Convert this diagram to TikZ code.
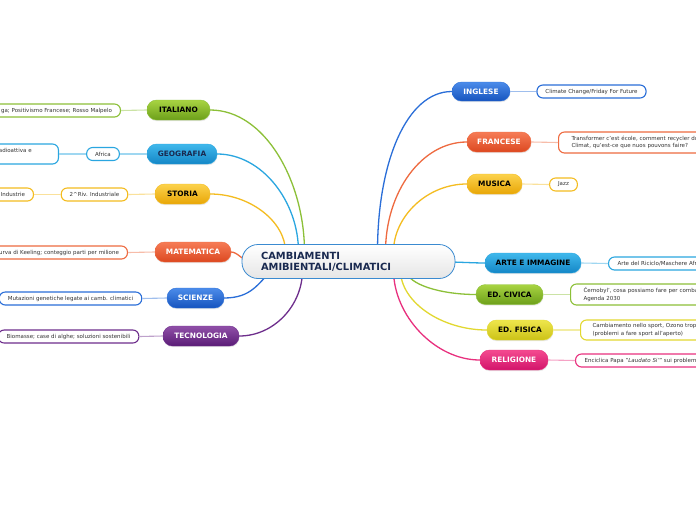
\documentclass[tikz,border=0pt]{standalone}
\usepackage{fontspec}
\setmainfont{DejaVu Sans}
\usetikzlibrary{calc,shadows}
\definecolor{gtop}{HTML}{A8D442}\definecolor{gbot}{HTML}{6C9F1A}\definecolor{gline}{HTML}{8CC038}
\definecolor{ltop}{HTML}{40B8EC}\definecolor{lbot}{HTML}{1486C6}\definecolor{lline}{HTML}{2AA6E0}
\definecolor{ytop}{HTML}{FCD24C}\definecolor{ybot}{HTML}{E8A606}\definecolor{yline}{HTML}{F4BC20}
\definecolor{otop}{HTML}{F67C56}\definecolor{obot}{HTML}{DC4820}\definecolor{oline}{HTML}{EE6A40}
\definecolor{btop}{HTML}{4C8CEA}\definecolor{bbot}{HTML}{1654BE}\definecolor{bline}{HTML}{2A6ED8}
\definecolor{ptop}{HTML}{9050A8}\definecolor{pbot}{HTML}{5A1C76}\definecolor{pline}{HTML}{6E2E8C}
\definecolor{ftop}{HTML}{EEE64C}\definecolor{fbot}{HTML}{CCC216}\definecolor{fline}{HTML}{E2D830}
\definecolor{rtop}{HTML}{F44A90}\definecolor{rbot}{HTML}{D2146A}\definecolor{rline}{HTML}{E8307E}
\definecolor{navy}{HTML}{1A2A50}
\definecolor{cline}{HTML}{3A8AD0}
\definecolor{leaftext}{HTML}{333333}
\tikzset{
  branch/.style={rounded corners=9.5pt, minimum height=20pt, inner sep=0pt,
    font=\fontsize{7.4}{9}\selectfont\bfseries, line width=0.4pt,
    drop shadow={opacity=0.18, shadow xshift=0.4pt, shadow yshift=-1.2pt}},
  bgreen/.style={branch, top color=gtop, bottom color=gbot, draw=gline, text=black},
  blblue/.style={branch, top color=ltop, bottom color=lbot, draw=lline, text=navy},
  blblueb/.style={branch, top color=ltop, bottom color=lbot, draw=lline, text=black},
  byellow/.style={branch, top color=ytop, bottom color=ybot, draw=yline, text=black},
  borange/.style={branch, top color=otop, bottom color=obot, draw=oline, text=white},
  bblue/.style={branch, top color=btop, bottom color=bbot, draw=bline, text=white},
  bpurple/.style={branch, top color=ptop, bottom color=pbot, draw=pline, text=white},
  bfis/.style={branch, top color=ftop, bottom color=fbot, draw=fline, text=black},
  bpink/.style={branch, top color=rtop, bottom color=rbot, draw=rline, text=white},
  leaf/.style={rounded corners=6pt, fill=white, line width=1.1pt, minimum height=13pt,
    inner xsep=8.5pt, inner ysep=1pt, text=leaftext, font=\fontsize{5.5}{7.2}\selectfont},
  conn/.style={line width=1.3pt},
  lconn/.style={line width=1.1pt},
}
\begin{document}
\begin{tikzpicture}[x=1pt,y=-1pt]
\useasboundingbox (0,0) rectangle (696,520);
\fill[white] (0,0) rectangle (696,520);
\clip (0,0) rectangle (696,520);

% branch nodes
\node[bgreen,  minimum width=63pt] (it)  at (178.5,110) {ITALIANO};
\node[blblue,  minimum width=70pt] (geo) at (182,154) {GEOGRAFIA};
\node[byellow, minimum width=55pt] (sto) at (182.5,194) {STORIA};
\node[borange, minimum width=76pt] (mat) at (193,252) {MATEMATICA};
\node[bblue,   minimum width=57pt] (sci) at (195.5,298) {SCIENZE};
\node[bpurple, minimum width=76pt] (tec) at (201,336) {TECNOLOGIA};
\node[bblue,   minimum width=58pt, minimum height=19pt] (ing) at (481,91.5) {INGLESE};
\node[borange, minimum width=64pt] (fra) at (499,142) {FRANCESE};
\node[byellow, minimum width=55pt] (mus) at (494.5,184) {MUSICA};
\node[blblueb, minimum width=96pt] (arte) at (533,263) {ARTE E IMMAGINE};
\node[bgreen,  minimum width=67pt] (civ) at (509.5,294.5) {ED. CIVICA};
\node[bfis,    minimum width=66pt] (fis) at (520,330) {ED. FISICA};
\node[bpink,   minimum width=68pt] (rel) at (514,360) {RELIGIONE};

% central node placeholder for anchors
\path (348.5,261) node[minimum width=213pt, minimum height=34pt, inner sep=0pt] (c0) {};

% main connectors
\draw[conn, gline] (it.east)  .. controls +(55,0) and +(0,-70) .. ($(c0.north)+(-44,8)$);
\draw[conn, lline] (geo.east) .. controls +(45,0) and +(0,-50) .. ($(c0.north)+(-50,8)$);
\draw[conn, yline] (sto.east) .. controls +(40,0) and +(0,-30) .. ($(c0.north)+(-63,8)$);
\draw[conn, oline] (mat.east) .. controls +(6,0) and +(-4,0) .. ($(c0.west)+(6,0)$);
\draw[conn, bline] (sci.east) .. controls +(28,0) and +(-12,10) .. ($(c0.south)+(-78,-6)$);
\draw[conn, pline] (tec.east) .. controls +(35,0) and +(0,35) .. ($(c0.south)+(-46,-8)$);
\draw[conn, bline] (ing.west) .. controls +(-45,0) and +(0,-90) .. ($(c0.north)+(29,8)$);
\draw[conn, oline] (fra.west) .. controls +(-45,0) and +(0,-60) .. ($(c0.north)+(37,8)$);
\draw[conn, yline] (mus.west) .. controls +(-40,0) and +(0,-35) .. ($(c0.north)+(45,8)$);
\draw[conn, lline] (arte.west) .. controls +(-10,0) and +(8,0) .. ($(c0.east)+(-6,1)$);
\draw[conn, gline] (civ.west) .. controls +(-35,0) and +(0,14) .. ($(c0.south)+(58,-8)$);
\draw[conn, fline] (fis.west) .. controls +(-45,0) and +(0,32) .. ($(c0.south)+(52,-8)$);
\draw[conn, rline] (rel.west) .. controls +(-45,0) and +(0,45) .. ($(c0.south)+(45,-8)$);

% central node
\node[minimum width=213pt, minimum height=34pt, rounded corners=16pt, draw=cline, line width=0.8pt,
  top color=white, bottom color=black!10, inner xsep=19pt, inner ysep=0pt, text width=175pt, align=left,
  text=navy, font=\fontsize{9.9}{11}\selectfont\bfseries] (c) at (348.5,261.5)
  {CAMBIAMENTI\\AMIBIENTALI/CLIMATICI};

% leaves
\node[leaf, draw=gline, anchor=east, text width=140pt, align=right] (itl) at (121,110.5)
  {ga; Positivismo Francese; Rosso Malpelo};
\node[leaf, draw=lline] (geol) at (103,154) {Africa};
\node[leaf, draw=lline, anchor=east, text width=51pt, align=left, minimum height=20pt, inner ysep=2pt] (geol2) at (59,154)
  {adioattiva e\\\mbox{}};
\node[leaf, draw=yline] (stol) at (94.5,194.5) {2\textasciicircum Riv. Industriale};
\node[leaf, draw=yline, anchor=east, text width=60pt, align=right] (stol2) at (34,194.5) {Industrie};
\node[leaf, draw=oline, anchor=east, text width=150pt, align=right] (matl) at (128,252.5)
  {urva di Keeling; conteggio parti per milione};
\node[leaf, draw=bline] (scil) at (70.5,298.5) {Mutazioni genetiche legate ai camb. climatici};
\node[leaf, draw=pline] (tecl) at (68.5,336.5) {Biomasse; case di alghe; soluzioni sostenibili};

\node[leaf, draw=bline] (ingl) at (591.5,91.5) {Climate Change/Friday For Future};
\node[leaf, draw=oline, anchor=west, text width=160pt, align=left, inner xsep=13pt, minimum height=21pt] (fral) at (558,142.5)
  {Transformer c'est école, comment recycler du\\Climat, qu'est-ce que nuos pouvons faire?};
\node[leaf, draw=yline] (musl) at (563.5,184.5) {Jazz};
\node[leaf, draw=lline, anchor=west, text width=130pt, align=left, inner xsep=9pt] (artel) at (608,263.5)
  {Arte del Riciclo/Maschere Afr};
\node[leaf, draw=gline, anchor=west, text width=160pt, align=left, inner xsep=13pt, minimum height=21pt] (civl) at (570,294.5)
  {Černobyl', cosa possiamo fare per comba\\Agenda 2030};
\node[leaf, draw=fline, anchor=west, text width=160pt, align=left, inner xsep=12pt, minimum height=20pt] (fisl) at (580,330)
  {Cambiamento nello sport, Ozono trop\\(problemi a fare sport all'aperto)};
\node[leaf, draw=rline, anchor=west, text width=160pt, align=left, inner xsep=9pt] (rell) at (575,360.5)
  {Enciclica Papa "\textit{Laudato Si'}" sui problemi};

% leaf connectors
\draw[lconn, gline!45] (it.west) -- (itl.east);
\draw[lconn, lline!45] (geo.west) -- (geol.east);
\draw[lconn, lline!45] (geol.west) -- (geol2.east);
\draw[lconn, yline!45] (sto.west) -- (stol.east);
\draw[lconn, yline!45] (stol.west) -- (stol2.east);
\draw[lconn, oline!45] (mat.west) -- (matl.east);
\draw[lconn, bline!45] (sci.west) -- (scil.east);
\draw[lconn, pline!45] (tec.west) -- (tecl.east);
\draw[lconn, bline!45] (ing.east) -- (ingl.west);
\draw[lconn, oline!45] (fra.east) -- (fral.west);
\draw[lconn, yline!45] (mus.east) -- (musl.west);
\draw[lconn, lline!45] (arte.east) -- (artel.west);
\draw[lconn, gline!45] (civ.east) -- (civl.west);
\draw[lconn, fline!45] (fis.east) -- (fisl.west);
\draw[lconn, rline!45] (rel.east) -- (rell.west);
\end{tikzpicture}
\end{document}
